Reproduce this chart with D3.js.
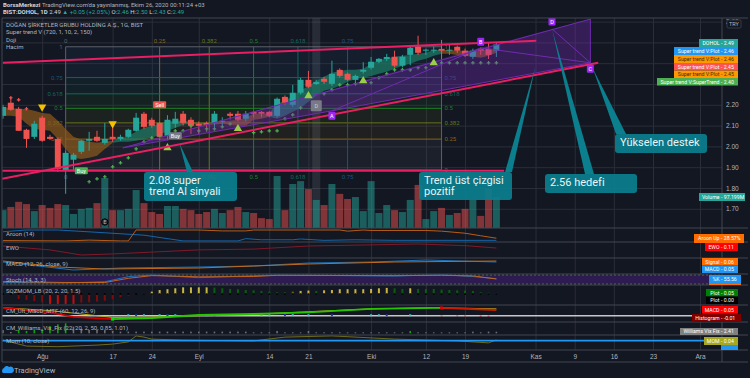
<!DOCTYPE html>
<html lang="tr">
<head>
  <meta charset="UTF-8">
  <title>DOHOL</title>
  <script src="https://d3js.org/d3.v7.min.js"></script>
  <style>
    html, body { margin: 0; padding: 0; background: #131722; overflow: hidden; }
    svg { display: block; font-family: Roboto, sans-serif; }
    .domain { display: none; }
  </style>
</head>
<body>
<svg id="chart" width="750" height="378"></svg>
<script>
// one value per trading day, bar 0 is late July 2020
const candleOpen = [2.147,2.21,2.181,2.08,2.046,2.138,2.046,2.036,1.887,1.936,1.974,2.027,2.046,2.017,2.046,2.036,2.046,2.075,2.157,2.128,2.113,2.051,2.109,2.157,2.128,2.109,2.113,2.113,2.118,2.157,2.157,2.133,2.166,2.166,2.166,2.147,2.238,2.2,2.258,2.32,2.30,2.325,2.301,2.368,2.349,2.32,2.359,2.378,2.407,2.42,2.431,2.388,2.44,2.479,2.46,2.46,2.469,2.46,2.479,2.46,2.431,2.469,2.469,2.46];
const candleClose = [2.19,2.176,2.075,2.036,2.109,2.027,2.036,1.892,1.969,1.96,2.027,2.036,2.027,2.036,2.036,2.046,2.08,2.138,2.094,2.099,2.046,2.128,2.133,2.113,2.099,2.099,2.104,2.157,2.123,2.147,2.128,2.157,2.157,2.157,2.147,2.229,2.21,2.258,2.32,2.287,2.31,2.311,2.349,2.339,2.32,2.339,2.368,2.407,2.421,2.43,2.388,2.431,2.474,2.45,2.465,2.465,2.46,2.465,2.46,2.436,2.46,2.46,2.44,2.49];
const candleHigh = [2.2,2.234,2.19,2.085,2.123,2.147,2.056,2.041,1.979,1.969,2.032,2.07,2.075,2.113,2.099,2.056,2.085,2.161,2.166,2.138,2.118,2.15,2.166,2.17,2.14,2.12,2.12,2.17,2.14,2.165,2.17,2.17,2.17,2.17,2.17,2.235,2.245,2.296,2.33,2.363,2.32,2.335,2.412,2.375,2.355,2.345,2.405,2.43,2.425,2.445,2.46,2.44,2.48,2.532,2.47,2.48,2.512,2.49,2.485,2.47,2.47,2.475,2.5,2.5];
const candleLow = [2.133,2.171,2.075,1.993,2.036,2.022,2.031,1.878,1.772,1.883,1.964,1.979,2.022,2.008,2.022,2.027,2.041,2.07,2.085,2.09,2.03,2.03,2.09,2.1,2.06,2.06,2.07,2.09,2.1,2.13,2.12,2.12,2.14,2.14,2.14,2.14,2.2,2.19,2.25,2.28,2.295,2.3,2.29,2.33,2.315,2.31,2.35,2.37,2.4,2.41,2.38,2.38,2.39,2.44,2.44,2.45,2.42,2.44,2.45,2.43,2.42,2.44,2.42,2.43];
const volumeM = [56,66,82,75,53,72,63,75,72,44,60,63,78,157,56,56,60,119,78,50,44,69,69,60,56,44,50,60,47,56,66,50,47,31,28,163,56,138,147,122,88,72,138,107,91,97,53,147,47,72,56,50,88,135,28,53,63,41,47,60,88,38,122,97.2];

const superUpper = [2.19,2.185,2.18,2.18,2.171,2.161,2.157,2.123,2.084,2.046,2.032,2.022,2.017,2.022,2.027,2.036,2.051,2.07,2.089,2.099,2.109,2.118,2.123,2.123,2.118,2.113,2.113,2.113,2.118,2.123,2.128,2.137,2.157,2.157,2.161,2.205,2.219,2.243,2.267,2.291,2.315,2.335,2.354,2.363,2.368,2.368,2.373,2.397,2.416,2.421,2.431,2.436,2.44,2.445,2.45,2.464,2.464,2.464,2.46,2.46,2.46,2.46,2.469,2.46];
const superLower = [2.147,2.147,2.142,2.109,2.084,2.08,2.075,2.036,1.988,1.945,1.94,1.945,1.955,1.988,2.017,2.022,2.022,2.027,2.036,2.041,2.056,2.075,2.089,2.104,2.109,2.104,2.104,2.104,2.109,2.104,2.099,2.099,2.128,2.133,2.142,2.133,2.147,2.166,2.185,2.215,2.243,2.267,2.277,2.291,2.311,2.325,2.33,2.339,2.349,2.359,2.373,2.388,2.397,2.412,2.421,2.436,2.445,2.445,2.44,2.436,2.431,2.426,2.436,2.45];
const cloudRuns = [[0,14,"#8f5a1c"],[14,24,"#1c7f68"],[24,34,"#8f5a1c"],[34,56,"#1c7f68"],[56,63,"#8f5a1c"]];

const stopDots = [[11,1.83],[12,1.844],[13,1.854],[14,1.902],[15,1.921],[16,1.945],[17,1.988],[18,2.022],[19,2.041],[20,2.05],[22,2.075],[23,2.075],[24,2.099],[25,2.075],[26,2.084],[27,2.084],[28,2.094],[29,2.108],[32,2.066],[33,2.07],[34,2.075],[35,2.075],[36,2.133],[37,2.152],[38,2.185],[41,2.253],[42,2.272],[43,2.296],[44,2.296],[45,2.301],[47,2.306],[48,2.33],[49,2.349],[50,2.368],[51,2.368],[52,2.368],[53,2.378],[54,2.378],[56,2.402],[57,2.402],[58,2.402],[59,2.402],[60,2.402],[61,2.402],[62,2.402],[63,2.402]];
const redDots = [[1,2.234],[2,2.224],[3,2.181]];
const buyArrows = [[21,1.993],[30,2.085],[39,2.243],[46,2.315],[55,2.402]];
const sellArrows = [[5,2.19],[14,2.109]];

// gann box and harmonic pattern corners, [bar, price]
const gannLevels = [0,0.25,0.382,0.5,0.618,0.75,1];
const gannLabels = ["0","0.25","0.382","0.5","0.618","0.75","1"];
const gannColors = ["#5d606b","#86641d","#66751c","#1d7f24","#11695c","#1d5580","#5d606b"];
const gannBars = [8,56];
const gannPrices = [1.887,2.479];
const patternX = [15.3,1.993], patternA = [42,2.171], patternB = [61,2.474];
const patternC = [75,2.402], patternD = [70.1,2.565], patternTop = [75,2.612];

const trendUpper = [[0,2.402],[68.1,2.508]];
const trendLower = [[-0.1,1.844],[76,2.402]];
const trendFlat = [[-0.1,1.8825],[64,1.8825]];

const priceTicks = [1.7,1.8,1.9,2.0,2.1,2.2,2.3,2.4,2.5,2.6];
const dateTicks = [5,14,19,25,34,39,47,54,59,68,73,78,83,89];
const dateLabels = ["Ağu","17","24","Eyl","14","21","Eki","12","19","Kas","9","16","23","Ara"];

const aroonUp = [[0,8],[8,5],[11,12],[15,5],[16,5],[17,100],[25,100],[28,92],[31,92],[32,100],[43,100],[44,90],[46,100],[47,96],[54,96],[56,90],[59,72],[61,50],[63,28.57]];
const aroonDown = [[0,85],[3,100],[7,100],[12,80],[18,55],[23,5],[30,5],[31,25],[33,15],[37,15],[38,22],[41,10],[45,15],[50,10],[63,10]];
const ewo = [[0,0.185],[6,0.04],[10,-0.15],[14,-0.11],[25,0.04],[32,0.07],[39,0.185],[53,0.26],[59,0.2],[63,0.11]];
const macdLine = [[0,0.05],[9,-0.03],[15,-0.01],[25,0],[32,0.01],[39,0.04],[47,0.05],[54,0.07],[63,0.05]];
const macdSignal = [[0,0.06],[7,0],[13,-0.02],[25,-0.01],[32,0.01],[39,0.03],[50,0.05],[63,0.06]];
const stochK = [[0,31],[8,27],[13,35],[16,69],[19,80],[25,62],[32,75],[35,80],[50,73],[56,82],[60,70],[63,55.56]];
const stochD = [[0,36],[8,30],[13,30],[16,58],[19,76],[25,68],[32,70],[35,78],[50,76],[56,78],[60,74],[63,53.33]];
const sqzValues = [0,0,-0.175,-0.21,-0.25,-0.3,-0.36,-0.36,-0.36,-0.36,-0.31,-0.3,-0.275,-0.24,-0.175,-0.11,-0.05,-0.01,0.04,0.1,0.16,0.19,0.225,0.26,0.26,0.26,0.26,0.25,0.225,0.2,0.19,0.16,0.15,0.125,0.1,0.075,0.075,0.1,0.125,0.14,0.125,0.15,0.16,0.19,0.19,0.19,0.19,0.2,0.225,0.24,0.225,0.2,0.225,0.2,0.2,0.2,0.175,0.16,0.15,0.14,0.125,0.075,0.06,0.05];
const sqzCodes = "kkddddrrrrddddddddoyyyyyyyyggggggggggoyygyyyyyyyyyggyggggggggggg";
const sqzPalette = {k:"#000000",d:"#7d0c0c",r:"#c40d0d",o:"#6b6418",y:"#c9b544",g:"#0b5c12"};
const vixMacd = [[0,0.068],[6,0.03],[9,-0.01],[14,-0.03],[19,-0.02],[25,0.006],[32,0.015],[39,0.03],[47,0.06],[55,0.068],[56,0.068],[63,0.05]];
const vixMacdRuns = [[0,14,"#d40000"],[14,56,"#27c400"],[56,63,"#c41f00"]];
const vixSignal = [[0,0.07],[6,0.045],[14,-0.015],[19,-0.012],[25,0],[32,0.012],[39,0.035],[47,0.06],[55,0.07],[63,0.06]];
const vixHist = [[16,0.004],[17,0.004],[18,0.004],[20,0.004],[21,0.004],[22,0.004],[26,0.004],[27,0.004],[33,0.004],[34,0.004],[36,0.005],[37,0.005],[39,0.004],[42,0.004],[47,0.004],[48,0.004],[49,0.004],[52,0.004]];
const vixDown = [[56,-0.005],[58,-0.005],[59,-0.006],[61,-0.008],[62,-0.008]];
const williamsVix = [5,2,5.1,3.6,5.1,6.7,11.3,13.8,15.4,10.3,6.7,5.1,5.1,5.1,3.6,2.6,2.6,2.6,2.6,2.6,2.6,2.6,2.6,2.6,2.6,2.6,2.6,2.6,2.6,2.6,2.6,2.6,1.5,1.5,1.5,3.6,1.5,1.5,1.5,3.6,1.5,1.5,1.5,1.5,1.5,1.5,1.5,1.5,1.5,1.5,1.5,1.5,3.6,1.5,1.5,1.5,1.5,1.5,1.5,1.5,2.6,1.5,2.6,2.41];
const williamsGreen = [2,3,4,5,6,7,8,52];
const momentum = [[0,0.03],[3,-0.27],[7,-0.3],[12,-0.22],[14,-0.17],[16,-0.06],[17,0.24],[18,0.18],[19,0.08],[23,0.03],[32,-0.01],[36,0.18],[42,0.24],[50,0.08],[58,-0.01],[62,-0.11],[63,0.04]];

const svg = d3.select("#chart");
const frameLeft = 2, axisX = 722, frameTop = 18, paneBottom = 228, timeY = 350, frameBottom = 362;
const gridCol = "#2a2e39", sepCol = "#434651", txt = "#b2b5be";

svg.append("rect").attr("width", 750).attr("height", 378).attr("fill", "#131722");

const x = d3.scaleLinear().domain([0, 89]).range([3, 700]);
const y = d3.scaleLinear().domain([1.7, 2.6]).range([208.8, 21.6]);
const vol = d3.scaleLinear().domain([0, 97.2]).range([228, 197]);

// vertical grid + date labels
const xAxis = d3.axisBottom(x).tickValues(dateTicks)
  .tickFormat((d, i) => dateLabels[i]).tickSize(-(timeY - frameTop)).tickPadding(4);
const xg = svg.append("g").attr("transform", `translate(0,${timeY})`).call(xAxis);
xg.selectAll("line").attr("stroke", gridCol);
xg.selectAll("text").attr("fill", txt).attr("font-size", 6.5);

// horizontal grid + price labels, the tags sit over 2.30-2.50
const yAxis = d3.axisRight(y).tickValues(priceTicks)
  .tickFormat(d => d > 2.25 && d < 2.55 ? "" : d3.format(".2f")(d))
  .tickSize(-(axisX - frameLeft)).tickPadding(4);
const yg = svg.append("g").attr("transform", `translate(${axisX},0)`).call(yAxis);
yg.selectAll("line").attr("stroke", gridCol);
yg.selectAll("text").attr("fill", txt).attr("font-size", 6.5);

svg.append("defs").append("clipPath").attr("id", "main")
  .append("rect").attr("x", frameLeft).attr("y", frameTop)
  .attr("width", axisX - frameLeft).attr("height", paneBottom - frameTop);
const main = svg.append("g").attr("clip-path", "url(#main)");

// gann box
const gx = d3.scaleLinear().domain([0, 1]).range(gannBars);
const gy = d3.scaleLinear().domain([0, 1]).range(gannPrices);
const gann = main.append("g");
gannLevels.slice(1).forEach((lv, i) => {
  gann.append("rect").attr("x", x(gannBars[0])).attr("width", x(gannBars[1]) - x(gannBars[0]))
    .attr("y", y(gy(lv))).attr("height", y(gy(gannLevels[i])) - y(gy(lv)))
    .attr("fill", gannColors[i]).attr("opacity", 0.12);
});
gannLevels.forEach((lv, i) => {
  gann.append("line").attr("x1", x(gannBars[0])).attr("x2", x(gannBars[1]))
    .attr("y1", y(gy(lv))).attr("y2", y(gy(lv))).attr("stroke", gannColors[i]);
  gann.append("line").attr("x1", x(gx(lv))).attr("x2", x(gx(lv)))
    .attr("y1", y(gy(0))).attr("y2", y(gy(1))).attr("stroke", gannColors[i]);
  if (lv > 0) {
    gann.append("text").attr("x", x(gannBars[0]) - 3).attr("y", y(gy(lv)) + 2).attr("text-anchor", "end")
      .attr("font-size", 6).attr("fill", gannColors[i]).text(gannLabels[i]);
  }
  gann.append("text").attr("x", x(gannBars[1]) + 3).attr("y", y(gy(lv)) + 2)
    .attr("font-size", 6).attr("fill", gannColors[i]).text(gannLabels[i]);
  if (lv < 1) {
    gann.append("text").attr("x", x(gx(lv))).attr("y", y(gy(1)) - 4).attr("text-anchor", "middle")
      .attr("font-size", 6).attr("fill", gannColors[i]).text(gannLabels[i]);
  }
  if (lv != 0.25 && lv < 1) {
    gann.append("text").attr("x", x(gx(lv))).attr("y", y(gy(0)) + 9).attr("text-anchor", "middle")
      .attr("font-size", 6).attr("fill", gannColors[i]).text(gannLabels[i]);
  }
});

// grey pattern highlight
main.append("rect").attr("x", x(40) - 4).attr("width", 8).attr("y", frameTop)
  .attr("height", paneBottom - frameTop).attr("fill", "#787b86").attr("opacity", 0.22);

// volume
main.selectAll("rect.vol").data(volumeM).join("rect").attr("class", "vol")
  .attr("x", (d, i) => x(i) - 3.5).attr("width", 7)
  .attr("y", d => vol(d)).attr("height", d => vol(0) - vol(d))
  .attr("fill", (d, i) => candleClose[i] >= candleOpen[i] ? "#26a69a" : "#ef5350")
  .attr("opacity", 0.5);

// super trend cloud
const bars = d3.range(candleOpen.length);
const cloud = d3.area().x(i => x(i)).y0(i => y(superLower[i])).y1(i => y(superUpper[i]));
cloudRuns.forEach(([from, to, col]) => {
  const run = bars.slice(from, to + 1);
  main.append("path").attr("d", cloud(run)).attr("fill", col).attr("opacity", 0.7);
});

// candles
const candle = main.append("g");
candle.selectAll("line").data(bars).join("line")
  .attr("x1", i => x(i)).attr("x2", i => x(i))
  .attr("y1", i => y(candleHigh[i])).attr("y2", i => y(candleLow[i]))
  .attr("stroke", i => candleClose[i] >= candleOpen[i] ? "#26a69a" : "#ef5350");
candle.selectAll("rect").data(bars).join("rect")
  .attr("x", i => x(i) - 3).attr("width", 6)
  .attr("y", i => y(Math.max(candleOpen[i], candleClose[i])))
  .attr("height", i => Math.max(1, Math.abs(y(candleOpen[i]) - y(candleClose[i]))))
  .attr("fill", i => candleClose[i] >= candleOpen[i] ? "#26a69a" : "#ef5350");

// stops drawn as small crosses
const cross = d3.symbol().type(d3.symbolCross).size(7);
main.selectAll("path.stop").data(stopDots).join("path").attr("class", "stop")
  .attr("d", cross).attr("transform", d => `translate(${x(d[0])},${y(d[1])})`).attr("fill", "#4caf50");
main.selectAll("path.rstop").data(redDots).join("path").attr("class", "rstop")
  .attr("d", cross).attr("transform", d => `translate(${x(d[0])},${y(d[1])})`).attr("fill", "#ef5350");

// harmonic pattern
const line = d3.line().x(d => x(d[0])).y(d => y(d[1]));
[[patternX, patternA, patternB], [patternA, patternB, patternTop, patternC]].forEach(poly => {
  main.append("path").attr("d", line(poly) + "Z").attr("fill", "#7b2cbf").attr("opacity", 0.33);
});
[[patternX, patternA, patternB, patternC, patternD],
 [patternX, patternTop, patternC], [patternA, patternC]].forEach(seg => {
  main.append("path").attr("d", line(seg)).attr("fill", "none").attr("stroke", "#6f2cb0").attr("stroke-width", 1);
});

// signal arrows
const tri = d3.symbol().type(d3.symbolTriangle).size(30);
main.selectAll("path.buy").data(buyArrows).join("path").attr("class", "buy").attr("d", tri)
  .attr("transform", d => `translate(${x(d[0])},${y(d[1])})`).attr("fill", "#9ccc4b");
main.selectAll("path.sell").data(sellArrows).join("path").attr("class", "sell").attr("d", tri)
  .attr("transform", d => `translate(${x(d[0])},${y(d[1])}) rotate(180)`).attr("fill", "#f2c200");

// trend lines
[trendUpper, trendLower, trendFlat].forEach(t => {
  main.append("path").attr("d", line(t)).attr("fill", "none").attr("stroke", "#e91e63").attr("stroke-width", 2);
});

function badge(bar, price, label, fill, w, h, col) {
  const g = main.append("g").attr("transform", `translate(${x(bar)},${y(price)})`);
  g.append("rect").attr("x", -w / 2).attr("y", -h / 2).attr("width", w).attr("height", h)
    .attr("rx", 1).attr("fill", fill);
  g.append("text").attr("y", 2).attr("text-anchor", "middle").attr("font-size", 5.5)
    .attr("fill", col || "#fff").text(label);
}
badge(20, 2.2, "Sell", "#ef5350", 13, 7);
badge(10, 1.883, "Buy", "#4caf50", 13, 7);
badge(22, 2.051, "Buy", "#787b86", 13, 7);
badge(40, 2.195, "D", "#787b86", 11, 11, "#ccc");
badge(42, 2.147, "A", "#9c27f5", 7, 8);
badge(61, 2.503, "B", "#9c27f5", 7, 8);
badge(75, 2.373, "C", "#9c27f5", 7, 8);
badge(70.1, 2.6, "D", "#9c27f5", 7, 8);

// earnings mark on the volume pane
main.append("circle").attr("cx", x(13)).attr("cy", 222).attr("r", 3.2).attr("fill", "#2a2e39").attr("stroke", "#000");
main.append("text").attr("x", x(13)).attr("y", 224).attr("text-anchor", "middle").attr("font-size", 5).attr("fill", txt).text("E");

// callouts
function callout(lines, bx, by, bw, bh, target, bx1, by1, bx2, by2) {
  const g = svg.append("g");
  g.append("path").attr("d", `M${x(target[0])},${y(target[1])}L${bx1},${by1}L${bx2},${by2}Z`).attr("fill", "#0b7f8e");
  g.append("rect").attr("x", bx).attr("y", by).attr("width", bw).attr("height", bh).attr("rx", 3)
    .attr("fill", "#0b7f8e").attr("fill-opacity", 0.92);
  lines.forEach((t, i) => {
    g.append("text").attr("x", bx + 5).attr("y", by + 11.5 + i * 11).attr("font-size", 11)
      .attr("fill", "#e9f3f5").text(t);
  });
}
callout(["2.08 super", "trend Al sinyali"], 144, 172, 93, 29, [22.5, 2.018], 187, 172, 193, 172);
callout(["Trend üst çizgisi", "pozitif"], 419, 172, 93, 28, [68, 2.385], 505, 172, 512, 172);
callout(["2.56 hedefi"], 545, 174, 92, 19, [70.1, 2.565], 585, 174, 594, 174);
callout(["Yükselen destek"], 615, 134, 92, 19, [75.3, 2.376], 616, 134, 626, 134);

// indicator panes
const panes = [
  {y0: 228, y1: 242, name: "Aroon (14)"},
  {y0: 242, y1: 258, name: "EWO"},
  {y0: 258, y1: 274, name: "MACD (12, 26, close, 9)"},
  {y0: 274, y1: 285, name: "Stoch (14, 3, 3)"},
  {y0: 285, y1: 305, name: "SQZMOM_LB (20, 2, 20, 1.5)"},
  {y0: 305, y1: 322, name: "CM_Ult_MacD_MTF (60, 12, 26, 9)"},
  {y0: 322, y1: 335, name: "CM_Williams_Vix_Fix (22, 20, 2, 50, 0.85, 1.01)"},
  {y0: 335, y1: 350, name: "Mom (10, close)"}
];
const plot = (ys, pts, col, w) => svg.append("path")
  .attr("d", d3.line().x(d => x(d[0])).y(d => ys(d[1]))(pts))
  .attr("fill", "none").attr("stroke", col).attr("stroke-width", w || 1);

const yAroon = d3.scaleLinear().domain([0, 100]).range([241.5, 230]);
plot(yAroon, aroonDown, "#1565a8");
plot(yAroon, aroonUp, "#b85c14");

const yEwo = d3.scaleLinear().domain([-0.15, 0.26]).range([255, 244]);
plot(yEwo, ewo, "#7e1a2a");

const yMacd = d3.scaleLinear().domain([-0.05, 0.1]).range([272, 257]);
plot(yMacd, macdLine, "#1a73bd");
plot(yMacd, macdSignal, "#c06a1a");

const yStoch = d3.scaleLinear().domain([0, 100]).range([287, 272]);
svg.append("rect").attr("x", frameLeft).attr("width", axisX - frameLeft)
  .attr("y", yStoch(80)).attr("height", yStoch(20) - yStoch(80)).attr("fill", "#2d1b52");
[80, 20].forEach(v => svg.append("line").attr("x1", frameLeft).attr("x2", axisX)
  .attr("y1", yStoch(v)).attr("y2", yStoch(v)).attr("stroke", "#5d606b").attr("stroke-dasharray", "2,2"));
plot(yStoch, stochK, "#1a73bd");
plot(yStoch, stochD, "#c0651a");

const ySqz = d3.scaleLinear().domain([-0.4, 0.4]).range([305, 283.6]);
svg.selectAll("rect.sqz").data(sqzValues).join("rect").attr("class", "sqz")
  .attr("x", (d, i) => x(i) - 1).attr("width", 2)
  .attr("y", d => Math.min(ySqz(d), ySqz(0))).attr("height", d => Math.abs(ySqz(d) - ySqz(0)))
  .attr("fill", (d, i) => sqzPalette[sqzCodes[i]]);
svg.selectAll("rect.sqz0").data(sqzValues).join("rect").attr("class", "sqz0")
  .attr("x", (d, i) => x(i) - 1).attr("width", 2).attr("y", ySqz(0) - 1).attr("height", 1.5).attr("fill", "#000");

const yVix = d3.scaleLinear().domain([-0.05, 0.1]).range([321.4, 304.3]);
svg.append("line").attr("x1", frameLeft).attr("x2", x(88)).attr("y1", yVix(0)).attr("y2", yVix(0))
  .attr("stroke", "#c8c8c8").attr("stroke-width", 1.5);
svg.selectAll("rect.vh").data(vixHist).join("rect").attr("class", "vh")
  .attr("x", d => x(d[0]) - 1).attr("width", 2)
  .attr("y", d => yVix(d[1]) - 1).attr("height", 2).attr("fill", (d, i) => i % 3 == 1 ? "#1e3fa8" : "#4fc3d9");
svg.selectAll("rect.vd").data(vixDown).join("rect").attr("class", "vd")
  .attr("x", d => x(d[0]) - 1).attr("width", 2)
  .attr("y", yVix(0)).attr("height", d => yVix(d[1]) - yVix(0)).attr("fill", "#8b1a1a");
plot(yVix, vixSignal, "#b9b01e");
vixMacdRuns.forEach(([from, to, col]) => {
  plot(yVix, vixMacd.filter(d => d[0] >= from && d[0] <= to), col, 1.8);
});
svg.append("rect").attr("x", x(14) - 1.5).attr("y", yVix(-0.03) - 1.5).attr("width", 3).attr("height", 3).attr("fill", "#00e600");
svg.append("rect").attr("x", x(56) - 1.5).attr("y", yVix(0.068) - 1.5).attr("width", 3).attr("height", 3).attr("fill", "#e60000");

const yWill = d3.scaleLinear().domain([0, 20]).range([333.3, 320.3]);
svg.selectAll("rect.wv").data(williamsVix).join("rect").attr("class", "wv")
  .attr("x", (d, i) => x(i) - 0.8).attr("width", 1.6)
  .attr("y", d => yWill(d)).attr("height", d => yWill(0) - yWill(d))
  .attr("fill", (d, i) => williamsGreen.includes(i) ? "#12a012" : "#6e6f74");

const yMom = d3.scaleLinear().domain([-0.3, 0.3]).range([346.7, 334.7]);
plot(yMom, momentum, "#6e6a1e");
plot(yMom, [[-0.1, 0], [92, 0]], "#2196f3", 1.8);

// pane separators and frame
panes.forEach(p => {
  svg.append("line").attr("x1", frameLeft).attr("x2", 748).attr("y1", p.y0).attr("y2", p.y0).attr("stroke", sepCol);
  svg.append("text").attr("x", 6).attr("y", p.y0 + 8).attr("font-size", 6).attr("fill", txt).text(p.name);
});
[[frameLeft, frameTop, 748, frameTop], [frameLeft, frameTop, frameLeft, frameBottom],
 [frameLeft, frameBottom, 748, frameBottom], [axisX, frameTop, axisX, frameBottom],
 [frameLeft, timeY, 748, timeY]].forEach(l => {
  svg.append("line").attr("x1", l[0]).attr("y1", l[1]).attr("x2", l[2]).attr("y2", l[3]).attr("stroke", sepCol);
});

// last value tags
function tag(label, value, left, right, top, h, fill, col) {
  svg.append("rect").attr("x", left).attr("y", top).attr("width", right - left).attr("height", h).attr("fill", fill);
  svg.append("text").attr("x", 719.5).attr("y", top + h / 2 + 1.9).attr("text-anchor", "end")
    .attr("font-size", 5.2).attr("fill", col || "#fff").text(label);
  svg.append("text").attr("x", 721).attr("y", top + h / 2 + 1.9)
    .attr("font-size", 5.2).attr("fill", col || "#fff").text("- " + value);
}
tag("DOHOL", "2.49", 699, 738, 39, 8, "#26a69a");
tag("Super trend V:Plot", "2.46", 674, 738, 47, 8, "#2196f3");
tag("Super trend V:Plot", "2.46", 674, 738, 55, 8, "#ff9800", "#3a2a00");
tag("Super trend V:Plot", "2.45", 674, 738, 63, 7.5, "#ff5252");
tag("Super trend V:Plot", "2.45", 674, 738, 70.5, 7.5, "#ff9800", "#3a2a00");
tag("Super trend V:SuperTrend", "2.40", 657, 738, 78, 7.5, "#4caf50");
tag("Volume", "97.199M", 699, 745, 193, 8, "#26a69a");
tag("Aroon Up", "28.57%", 694, 744, 234, 9, "#ff6d00");
tag("EWO", "0.11", 705, 738, 243, 8, "#ff0000");
tag("Signal", "0.06", 702, 738, 258, 7.5, "#ff6d00");
tag("MACD", "0.05", 702, 738, 265.5, 7.5, "#2196f3");
tag("%K", "55.56", 709, 741, 275, 9, "#2196f3");
tag("Plot", "0.05", 706, 738, 289, 7.5, "#008000");
tag("Plot", "0.00", 706, 738, 296.5, 7.5, "#000000");
tag("MACD", "0.05", 702, 738, 306, 7.5, "#ff0000");
tag("Histogram", "-0.01", 692, 741, 314, 8, "#800000");
tag("Williams Vix Fix", "2.41", 680, 738, 328, 7, "#808080");
tag("MOM", "0.04", 704, 738, 337, 8, "#a8a81e");
svg.append("rect").attr("x", 721).attr("y", 345).attr("width", 17).attr("height", 5).attr("fill", "#2196f3");
svg.append("rect").attr("x", 709).attr("y", 284).attr("width", 32).attr("height", 1).attr("fill", "#ff6d00");

// TRY box
svg.append("rect").attr("x", 727).attr("y", 20).attr("width", 14).attr("height", 8).attr("rx", 1)
  .attr("fill", "#131722").attr("stroke", "#363a45");
svg.append("text").attr("x", 734).attr("y", 26).attr("text-anchor", "middle").attr("font-size", 5.5).attr("fill", txt).text("TRY");

// header
const h1 = svg.append("text").attr("x", 3).attr("y", 7).attr("font-size", 6).attr("fill", txt);
h1.append("tspan").attr("font-weight", 700).attr("fill", "#d1d4dc").text("BorsaMerkezi ");
h1.append("tspan").text("TradingView.com'da yayınlanmış, Ekim 26, 2020 00:11:24 +03");
const h2 = svg.append("text").attr("x", 3).attr("y", 14).attr("font-size", 6).attr("fill", "#d1d4dc");
h2.append("tspan").attr("font-weight", 700).text("BIST:DOHOL, 1D  ");
h2.append("tspan").text("2.49 ");
h2.append("tspan").attr("fill", "#26a69a").text("▲ +0.05 (+2.05%) ");
["O:", "2.46", " H:", "2.50", " L:", "2.43", " C:", "2.49"].forEach((t, i) => {
  h2.append("tspan").attr("fill", i % 2 ? "#26a69a" : "#d1d4dc").text(t);
});

["DOĞAN ŞİRKETLER GRUBU HOLDİNG A.Ş., 1G, BIST", "Super trend V (720, 1, 10, 2, 150)", "Doji", "Hacim"].forEach((t, i) => {
  svg.append("text").attr("x", 6).attr("y", 27 + i * 7.3).attr("font-size", 6).attr("fill", txt).text(t);
});

// logo
svg.append("path").attr("d", "M3,373 a3,3 0 0 1 1,-5 a3,3 0 0 1 5,-1 a2.5,2.5 0 0 1 3,6 Z").attr("fill", "#2196f3");
svg.append("text").attr("x", 14).attr("y", 373).attr("font-size", 7.5).attr("fill", txt).text("TradingView");
</script>
</body>
</html>
